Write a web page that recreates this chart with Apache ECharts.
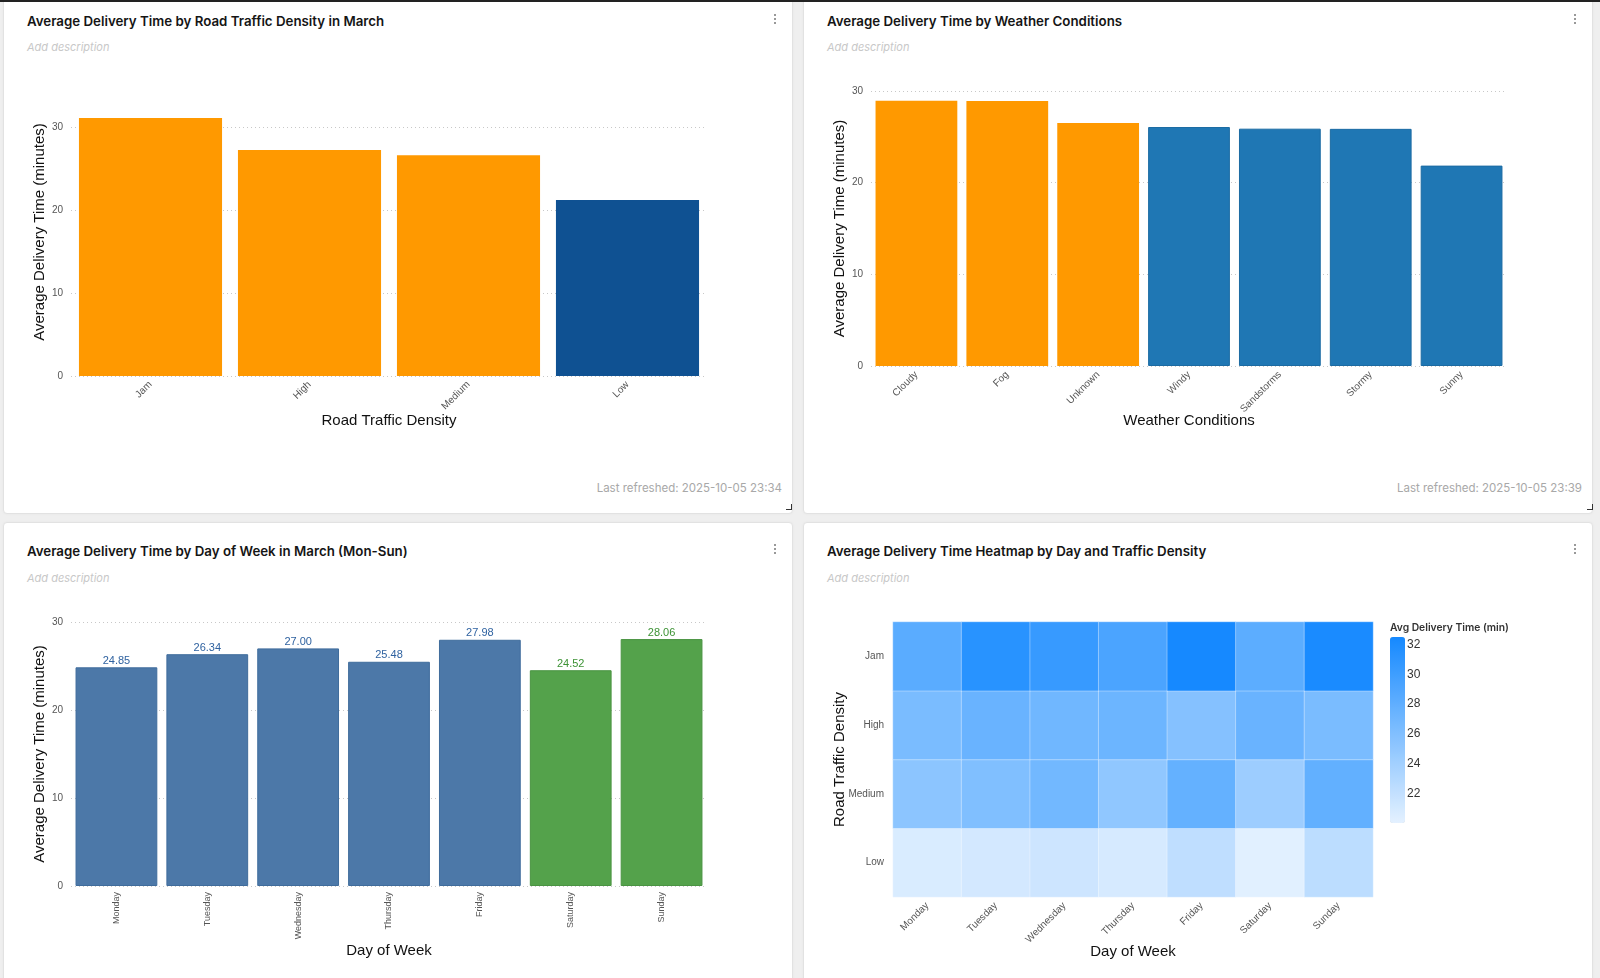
<!DOCTYPE html>
<html>
<head>
<meta charset="utf-8">
<script src="https://cdn.jsdelivr.net/npm/echarts@6/dist/echarts.min.js"></script>
<style>
  html, body { margin:0; padding:0; }
  body { width:1600px; height:978px; overflow:hidden; background:#efefef; position:relative; font-family: Inter, "Noto Sans", sans-serif; }
  .topline { position:absolute; left:0; top:0; width:1600px; height:2px; background:#222; z-index:5; }
  .panel { position:absolute; background:#fff; border:1px solid #e2e2e2; border-radius:4px; box-sizing:border-box; box-shadow:0 0 3px rgba(0,0,0,0.04); }
  .title { position:absolute; font-size:13.3px; line-height:16px; font-weight:600; color:#151515; white-space:nowrap; }
  .desc { position:absolute; font-size:11px; line-height:14px; font-style:italic; color:#c8c8c8; white-space:nowrap; }
  .refresh { position:absolute; font-size:11.5px; line-height:14px; color:#a8a8a8; white-space:nowrap; text-align:right; width:300px; }
  .dots { position:absolute; width:4px; font-size:14px; line-height:14px; color:#666; }
  .dots i { display:block; width:2px; height:2px; background:#777; border-radius:1px; margin:0 0 2px 0; }
  .handle { position:absolute; width:5px; height:5px; border-right:1.5px solid #333; border-bottom:1.5px solid #333; }
  #chart { position:absolute; left:0; top:0; width:1600px; height:978px; z-index:3; }
</style>
</head>
<body>
<div class="topline"></div>
<div class="panel" style="left:3px; top:-8px; width:790px; height:522px;"></div>
<div class="panel" style="left:803px; top:-8px; width:790px; height:522px;"></div>
<div class="panel" style="left:3px; top:522px; width:790px; height:470px;"></div>
<div class="panel" style="left:803px; top:522px; width:790px; height:470px;"></div>

<div class="title" style="left:27px; top:13px;">Average Delivery Time by Road Traffic Density in March</div>
<div class="title" style="left:827px; top:13px;">Average Delivery Time by Weather Conditions</div>
<div class="title" style="left:27px; top:543px;">Average Delivery Time by Day of Week in March (Mon-Sun)</div>
<div class="title" style="left:827px; top:543px;">Average Delivery Time Heatmap by Day and Traffic Density</div>

<div class="desc" style="left:27px; top:40px;">Add description</div>
<div class="desc" style="left:827px; top:40px;">Add description</div>
<div class="desc" style="left:27px; top:571px;">Add description</div>
<div class="desc" style="left:827px; top:571px;">Add description</div>

<div class="refresh" style="left:482px; top:481px;">Last refreshed: 2025-10-05 23:34</div>
<div class="refresh" style="left:1282px; top:481px;">Last refreshed: 2025-10-05 23:39</div>

<div class="dots" style="left:774px; top:14px;"><i></i><i></i><i></i></div>
<div class="dots" style="left:1574px; top:14px;"><i></i><i></i><i></i></div>
<div class="dots" style="left:774px; top:544px;"><i></i><i></i><i></i></div>
<div class="dots" style="left:1574px; top:544px;"><i></i><i></i><i></i></div>

<div class="handle" style="left:786px; top:504px;"></div>
<div class="handle" style="left:1587px; top:504px;"></div>

<div id="chart"></div>

<script>
// ---------- data ----------
const trafficCategories = ['Jam', 'High', 'Medium', 'Low'];
const trafficValues = [31.08, 27.23, 26.59, 21.2];

const weatherCategories = ['Cloudy', 'Fog', 'Unknown', 'Windy', 'Sandstorms', 'Stormy', 'Sunny'];
const weatherValues = [28.93, 28.9, 26.51, 26.07, 25.89, 25.87, 21.86];

const dayCategories = ['Monday', 'Tuesday', 'Wednesday', 'Thursday', 'Friday', 'Saturday', 'Sunday'];
const dayValues = [24.85, 26.34, 27.00, 25.48, 27.98, 24.52, 28.06];

const heatDays = ['Monday', 'Tuesday', 'Wednesday', 'Thursday', 'Friday', 'Saturday', 'Sunday'];
const heatDensity = ['Low', 'Medium', 'High', 'Jam'];
const heatJam    = [28.33, 31.35, 30.45, 29.24, 32.44, 28.21, 32.2];
const heatHigh   = [26.4, 27.43, 27.0, 27.25, 25.74, 27.43, 26.4];
const heatMedium = [25.31, 26.04, 26.88, 25.07, 27.73, 24.29, 27.85];
const heatLow    = [20.66, 21.03, 21.39, 20.85, 22.23, 20.18, 22.42];

const yTicksInterval = 10;
const legendMin = 20, legendMax = 32.5, legendInterval = 2;

// ---------- styles ----------
const FONT = '"Liberation Sans", Arial, Helvetica, sans-serif';
const ORANGE = '#ff9900';
const NAVY = '#0f5192';
const TAB_BLUE = '#1f77b4';
const STEEL = '#4c78a8';
const GREEN = '#54a24b';

const heatRows = { 'Jam': heatJam, 'High': heatHigh, 'Medium': heatMedium, 'Low': heatLow };
const heatData = [];
heatDensity.forEach((d, yi) => {
  heatRows[d].forEach((v, xi) => heatData.push([xi, yi, v]));
});

const tickLabel = { fontSize: 10, color: '#555', fontFamily: FONT };
const axisName = { fontSize: 15, color: '#111', fontFamily: FONT };
const split = { show: true, lineStyle: { type: [1, 3], color: '#c8c8c8', width: 1 } };

function catAxis(gi, data, rotate, name, gap, margin, fs) {
  return {
    type: 'category', gridIndex: gi, data: data,
    axisLine: { show: false }, axisTick: { show: false },
    axisLabel: Object.assign({}, tickLabel, { rotate: rotate, margin: margin, interval: 0, fontSize: fs || 10 }),
    name: name, nameLocation: 'middle', nameGap: gap, nameMoveOverlap: false, nameTextStyle: axisName
  };
}
function valAxis(gi, max) {
  return {
    type: 'value', gridIndex: gi, min: 0, max: max, interval: yTicksInterval,
    axisLine: { show: false }, axisTick: { show: false },
    axisLabel: Object.assign({ margin: 8, showMaxLabel: max % yTicksInterval === 0 }, tickLabel),
    splitLine: Object.assign({ showMaxLine: max % yTicksInterval === 0 }, split),
    name: 'Average Delivery Time (minutes)', nameLocation: 'middle', nameGap: 24, nameMoveOverlap: false,
    nameRotate: 90, nameTextStyle: axisName
  };
}

const chart = echarts.init(document.getElementById('chart'), null, { renderer: 'canvas' });
chart.setOption({
  backgroundColor: 'transparent',
  animation: false,
  textStyle: { fontFamily: FONT },
  grid: [
    { left: 71, top: 88, width: 636, height: 288 },
    { left: 871, top: 91, width: 636, height: 275 },
    { left: 71, top: 622, width: 636, height: 264 },
    { left: 893, top: 622, width: 480, height: 275 },
    { left: 1390, top: 637, width: 15, height: 186 }
  ],
  xAxis: [
    catAxis(0, trafficCategories, 45, 'Road Traffic Density', 37, 7),
    catAxis(1, weatherCategories, 45, 'Weather Conditions', 47, 7),
    catAxis(2, dayCategories, 90, 'Day of Week', 57, 6, 9),
    catAxis(3, heatDays, 45, 'Day of Week', 47, 7),
    { type: 'value', gridIndex: 4, show: false }
  ],
  yAxis: [
    valAxis(0, 34.7),
    valAxis(1, 30),
    valAxis(2, 30),
    {
      type: 'category', gridIndex: 3, data: heatDensity,
      axisLine: { show: false }, axisTick: { show: false },
      axisLabel: Object.assign({ margin: 9 }, tickLabel),
      splitLine: { show: false },
      name: 'Road Traffic Density', nameLocation: 'middle', nameGap: 46, nameMoveOverlap: false,
      nameRotate: 90, nameTextStyle: axisName
    },
    {
      type: 'value', gridIndex: 4, position: 'right',
      min: legendMin, max: legendMax, interval: legendInterval,
      axisLine: { show: false }, axisTick: { show: false }, splitLine: { show: false },
      axisLabel: { margin: 2, fontSize: 12, color: '#333', fontFamily: FONT, showMinLabel: false, showMaxLabel: false }
    }
  ],
  visualMap: {
    type: 'continuous', seriesIndex: 3, min: legendMin, max: legendMax,
    orient: 'vertical', left: 1390, top: 637, itemWidth: 15, itemHeight: 186,
    padding: 0, calculable: false, hoverLink: false,
    text: null, showLabel: false,
    inRange: { color: ['#e4f1ff', '#1589ff'] }
  },
  series: [
    {
      type: 'bar', xAxisIndex: 0, yAxisIndex: 0, barCategoryGap: '10%',
      data: trafficValues.map((v, i) => ({ value: v, itemStyle: { color: trafficCategories[i] === 'Low' ? NAVY : ORANGE } }))
    },
    {
      type: 'bar', xAxisIndex: 1, yAxisIndex: 1, barCategoryGap: '10%',
      data: weatherValues.map((v, i) => ({ value: v, itemStyle: i < 3 ? { color: ORANGE } : { color: TAB_BLUE, borderColor: '#1b6ba3', borderWidth: 1 } }))
    },
    {
      type: 'bar', xAxisIndex: 2, yAxisIndex: 2, barCategoryGap: '10%',
      label: { show: true, position: 'top', distance: 1, fontSize: 11, fontFamily: FONT, formatter: p => p.value.toFixed(2) },
      data: dayValues.map((v, i) => {
        const weekend = dayCategories[i] === 'Saturday' || dayCategories[i] === 'Sunday';
        return {
          value: v,
          itemStyle: { color: weekend ? GREEN : STEEL, borderColor: weekend ? '#4a9442' : '#3f6c9c', borderWidth: 1 },
          label: { color: weekend ? '#3c9234' : '#2f62a0' }
        };
      })
    },
    {
      type: 'heatmap', xAxisIndex: 3, yAxisIndex: 3, data: heatData,
      itemStyle: { borderColor: 'rgba(255,255,255,0.35)', borderWidth: 1 }
    }
  ]
});
</script>
<div style="position:absolute; left:1390px; top:620px; font-family:Inter, 'Noto Sans', sans-serif; font-size:10.3px; line-height:14px; font-weight:600; color:#333; z-index:4; white-space:nowrap;">Avg Delivery Time (min)</div>
</body>
</html>
